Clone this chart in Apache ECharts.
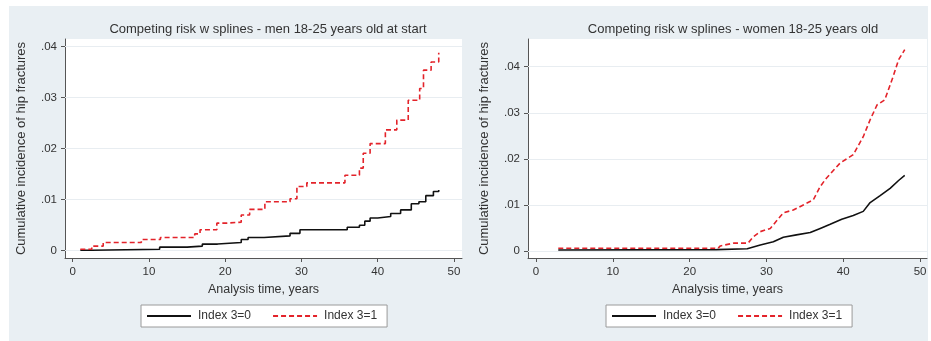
<!DOCTYPE html>
<html><head><meta charset="utf-8">
<script src="https://cdn.jsdelivr.net/npm/echarts@6/dist/echarts.min.js"></script>
<style>
html,body{margin:0;padding:0;background:#fff;}
#wrap{position:relative;width:931px;height:341px;background:#fff;}
#bg{position:absolute;left:9px;top:6px;width:919px;height:335px;background:#e9eff3;}
#chart{position:absolute;left:0;top:0;width:931px;height:341px;}
</style></head>
<body>
<div id="wrap"><div id="bg"></div><div id="chart"></div></div>
<script>
// ---- data ----
const titles = ['Competing risk w splines - men 18-25 years old at start', 'Competing risk w splines - women 18-25 years old'];
const xTitle = 'Analysis time, years';
const yTitle = 'Cumulative incidence of hip fractures';
const seriesNames = ['Index 3=0', 'Index 3=1'];
const xTicks = [0, 10, 20, 30, 40, 50];
const yTicks = [0, 0.01, 0.02, 0.03, 0.04];
const yTickLabels = ['0', '.01', '.02', '.03', '.04'];

const menTime0 = [1, 2.5, 11.4, 15, 17, 19, 22.1, 23, 25.1, 28.5, 29.8, 36, 37.6, 38.3, 39, 40, 41.7, 43, 44.4, 45.4, 46.3, 47.3, 48];
const menCif0  = [0.0001, 0.0003, 0.0007, 0.0009, 0.0013, 0.0016, 0.0022, 0.0026, 0.0029, 0.0034, 0.0041, 0.0046, 0.005, 0.0058, 0.0064, 0.0067, 0.0073, 0.008, 0.0092, 0.0096, 0.0108, 0.0116, 0.0119];
const menTime1 = [1, 2.5, 4, 9, 11.5, 16, 16.7, 18.9, 20.1, 22.1, 23.2, 25.2, 28.5, 29.4, 30.7, 35.7, 37.6, 38.1, 39, 41, 42.5, 44, 45.5, 46, 47, 48];
const menCif1  = [0.0003, 0.0009, 0.0016, 0.0022, 0.0026, 0.0033, 0.0041, 0.0054, 0.0056, 0.007, 0.0081, 0.0096, 0.0102, 0.0126, 0.0133, 0.0148, 0.0162, 0.0191, 0.021, 0.0237, 0.0256, 0.0295, 0.0318, 0.0354, 0.037, 0.0388];

const womenTime0 = [2.9, 23.5, 27.5, 29.2, 30.9, 32.2, 33.9, 35.7, 37, 38.3, 39.8, 41.3, 42.6, 43.5, 44.8, 46.1, 47.2, 48];
const womenCif0  = [0.0002, 0.0003, 0.0005, 0.0013, 0.002, 0.003, 0.0035, 0.004, 0.0049, 0.0058, 0.0069, 0.0077, 0.0086, 0.0105, 0.012, 0.0136, 0.0153, 0.0164];
const womenTime1 = [2.9, 23.7, 24, 25.7, 27.6, 28.3, 29.2, 30.5, 31.4, 32.2, 33.5, 34.8, 36.1, 37, 37.8, 39.6, 41.3, 42.6, 43.5, 44.4, 45.4, 46.5, 47.2, 48];
const womenCif1  = [0.0006, 0.0006, 0.0011, 0.0017, 0.0017, 0.0031, 0.0042, 0.0049, 0.0067, 0.0083, 0.0089, 0.01, 0.0111, 0.014, 0.0158, 0.0191, 0.0209, 0.0248, 0.0285, 0.0317, 0.0328, 0.0379, 0.0415, 0.0437];

// ---- build ----
const zip = (a, b) => a.map((v, i) => [v, b[i]]);
const FONT = 'Liberation Sans, Arial, sans-serif';
const TXT = '#333';

const panels = [
  {grid: {left: 65, top: 39, width: 397, height: 219}, xMin: -1.01, xMax: 51.05, yMin: -0.00143, yMax: 0.04151,
   d0: zip(menTime0, menCif0), d1: zip(menTime1, menCif1), step: 'end', titleX: 263, legendX: 141},
  {grid: {left: 528, top: 39, width: 399, height: 219}, xMin: -1.04, xMax: 50.9, yMin: -0.00152, yMax: 0.04601,
   d0: zip(womenTime0, womenCif0), d1: zip(womenTime1, womenCif1), step: false, titleX: 728, legendX: 606}
];

const option = {
  animation: false,
  textStyle: {fontFamily: FONT},
  title: [], grid: [], xAxis: [], yAxis: [], legend: [], series: []
};

panels.forEach((p, i) => {
  option.title.push({text: titles[i], left: p.titleX, top: 18, textAlign: 'center',
    textStyle: {fontSize: 13, fontWeight: 'normal', color: TXT, fontFamily: FONT}});
  option.grid.push(Object.assign({show: true, backgroundColor: '#fff', borderWidth: 0}, p.grid));
  option.xAxis.push({type: 'value', gridIndex: i, min: p.xMin, max: p.xMax,
    name: xTitle, nameLocation: 'middle', nameGap: 25,
    nameTextStyle: {fontSize: 12.5, color: TXT},
    axisLine: {show: true, onZero: false, lineStyle: {color: '#555', width: 1}},
    axisTick: {show: true, length: 4, lineStyle: {color: '#555'}, customValues: xTicks},
    axisLabel: {fontSize: 11.5, color: TXT, margin: 8, customValues: xTicks, formatter: v => String(v)},
    splitLine: {show: false}});
  option.yAxis.push({type: 'value', gridIndex: i, min: p.yMin, max: p.yMax,
    name: yTitle, nameLocation: 'middle', nameGap: 37, nameRotate: 90,
    nameTextStyle: {fontSize: 13, color: TXT},
    axisLine: {show: true, onZero: false, lineStyle: {color: '#555', width: 1}},
    axisTick: {show: true, length: 4, lineStyle: {color: '#555'}, customValues: yTicks},
    axisLabel: {fontSize: 11.5, color: TXT, margin: 8, customValues: yTicks,
      formatter: v => { const k = yTicks.findIndex(t => Math.abs(t - v) < 1e-9); return k >= 0 ? yTickLabels[k] : ''; }},
    splitLine: {show: false}});
  option.legend.push({data: seriesNames, left: p.legendX, top: 305, orient: 'horizontal',
    backgroundColor: '#fff', borderColor: '#9a9a9a', borderWidth: 1, borderRadius: 0,
    padding: [5, 10, 5, 5], itemWidth: 44, itemHeight: 10, itemGap: 21, selectedMode: false,
    itemStyle: {opacity: 0},
    textStyle: {fontSize: 12, color: TXT, fontFamily: FONT, padding: [0, 0, 0, 2]}});
  option.series.push({name: seriesNames[0], type: 'line', xAxisIndex: i, yAxisIndex: i,
    data: p.d0, step: p.step, symbol: 'none', z: 3,
    lineStyle: {color: '#111', width: 1.6}, itemStyle: {color: '#111'},
    markLine: {silent: true, symbol: 'none', label: {show: false},
      lineStyle: {color: '#e8edf1', width: 1, type: 'solid'}, z: 1,
      data: yTicks.map(t => ({yAxis: t}))}});
  option.series.push({name: seriesNames[1], type: 'line', xAxisIndex: i, yAxisIndex: i,
    data: p.d1, step: p.step, symbol: 'none', z: 4,
    lineStyle: {color: '#e3232a', width: 1.6, type: [5, 3]}, itemStyle: {color: '#e3232a'}});
});

const chart = echarts.init(document.getElementById('chart'), null, {renderer: 'canvas'});
chart.setOption(option);
</script>
</body></html>
